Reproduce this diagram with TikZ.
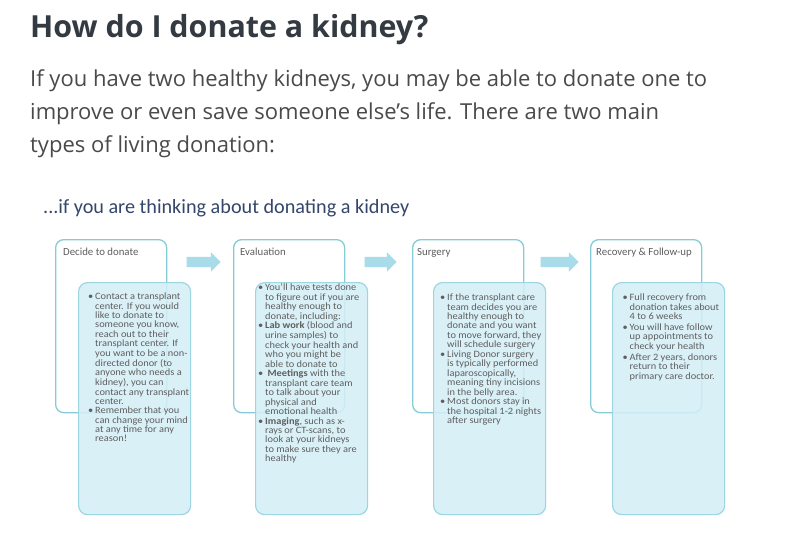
\documentclass[tikz,border=0pt]{standalone}
\usepackage{fontspec}
\usetikzlibrary{shapes.arrows}
\newfontfamily\osfont{Open Sans}
\newfontfamily\calfont{Carlito}
\newfontfamily\calbox[FakeStretch=1.07]{Carlito}
\definecolor{titlec}{HTML}{343A41}
\definecolor{bodyc}{HTML}{4A4A4A}
\definecolor{subc}{HTML}{34466B}
\definecolor{boxtext}{HTML}{5E5E5E}
\definecolor{outerc}{HTML}{86CCD8}
\definecolor{innerfill}{HTML}{D5EEF6}
\definecolor{innerdraw}{HTML}{9DD6E3}
\definecolor{arrowc}{HTML}{A8DCE9}
\newcommand{\blst}[2]{\begin{tabular}{@{}p{#1}@{}l@{}}#2\end{tabular}}
\tikzset{
  txt/.style={anchor=base west, inner sep=0pt},
  outerbox/.style={draw=outerc, line width=1.3pt, rounded corners=8pt, fill=white,
    minimum width=111pt, minimum height=173pt, inner sep=0pt, anchor=north west},
  innerbox/.style={draw=innerdraw, line width=1.2pt, rounded corners=9pt, fill=innerfill,
    fill opacity=0.88, minimum width=112pt, minimum height=232pt, anchor=north west, inner sep=0pt},
  hdr/.style={anchor=base west, inner sep=0pt, font=\calfont\fontsize{10.8}{12}\selectfont, text=boxtext},
  blist/.style={anchor=north west, inner sep=0pt, font=\calbox\fontsize{9.7}{9.15}\selectfont, text=boxtext},
  flow/.style={single arrow, fill=arrowc, draw=none, inner sep=5pt,
    single arrow head extend=4.5pt, minimum height=35pt}
}
\begin{document}
\begin{tikzpicture}[x=1pt, y=-1pt]
\useasboundingbox[fill=white] (0,0) rectangle (799,547);

\node[txt, font=\osfont\bfseries\fontsize{30.4}{36}\selectfont, text=titlec] (title) at (30,37) {How do I donate a kidney?};
\node[txt, font=\osfont\fontsize{22}{33}\selectfont, text=bodyc] (p1) at (30,86) {If you have two healthy kidneys, you may be able to donate one to};
\node[txt, font=\osfont\fontsize{22}{33}\selectfont, text=bodyc] (p2) at (30,119) {improve or even save someone else’s life. There are two main};
\node[txt, font=\osfont\fontsize{22}{33}\selectfont, text=bodyc] (p3) at (30,152) {types of living donation:};
\node[txt, font=\calfont\fontsize{20.2}{24}\selectfont, text=subc] (sub) at (43,213) {...if you are thinking about donating a kidney};

% outer boxes
\node[outerbox] (o1) at (55,239) {};
\node[outerbox] (o2) at (233,239) {};
\node[outerbox] (o3) at (412,239) {};
\node[outerbox] (o4) at (590,239) {};

% arrows
\node[flow, minimum height=34pt] (a1) at (201,262) {};
\node[flow, minimum height=32pt] (a2) at (378,262) {};
\node[flow, minimum height=38pt] (a3) at (557,262) {};

% inner boxes
\node[innerbox] (i1) at (78,282) {};
\node[innerbox] (i2) at (255,282) {};
\node[innerbox] (i3) at (433,282) {};
\node[innerbox] (i4) at (612,282) {};

% headers
\node[hdr] (h1) at (63,255) {Decide to donate};
\node[hdr] (h2) at (240,255) {Evaluation};
\node[hdr] (h3) at (417,255) {Surgery};
\node[hdr] (h4) at (596,255) {Recovery \& Follow-up};

% lists
\node[blist] (t1) at (88,292.6) {\blst{7pt}{%
\textbullet & Contact a transplant\\
 & center. If you would\\
 & like to donate to\\
 & someone you know,\\
 & reach out to their\\
 & transplant center. If\\
 & you want to be a non-\\
 & directed donor (to\\
 & anyone who needs a\\
 & kidney), you can\\
 & contact any transplant\\
 & center.\\
\textbullet & Remember that you\\
 & can change your mind\\
 & at any time for any\\
 & reason!}};

\node[blist] (t2) at (258,283.6) {\blst{7pt}{%
\textbullet & You’ll have tests done\\
 & to figure out if you are\\
 & healthy enough to\\
 & donate, including:\\
\textbullet & \textbf{Lab work} (blood and\\
 & urine samples) to\\
 & check your health and\\
 & who you might be\\
 & able to donate to\\
\textbullet & \ \textbf{Meetings} with the\\
 & transplant care team\\
 & to talk about your\\
 & physical and\\
 & emotional health\\
\textbullet & \textbf{Imaging}, such as x-\\
 & rays or CT-scans, to\\
 & look at your kidneys\\
 & to make sure they are\\
 & healthy}};

\node[blist] (t3) at (440,293.6) {\blst{7pt}{%
\textbullet & If the transplant care\\
 & team decides you are\\
 & healthy enough to\\
 & donate and you want\\
 & to move forward, they\\
 & will schedule surgery\\
\textbullet & Living Donor surgery\\
 & is typically performed\\
 & laparoscopically,\\
 & meaning tiny incisions\\
 & in the belly area.\\
\textbullet & Most donors stay in\\
 & the hospital 1-2 nights\\
 & after surgery}};

\node[blist] (t4) at (622.5,293.6) {\blst{7pt}{%
\textbullet & Full recovery from\\
 & donation takes about\\
 & 4 to 6 weeks\\[1.5pt]
\textbullet & You will have follow\\
 & up appointments to\\
 & check your health\\[1.5pt]
\textbullet & After 2 years, donors\\
 & return to their\\
 & primary care doctor.}};
\end{tikzpicture}
\end{document}
